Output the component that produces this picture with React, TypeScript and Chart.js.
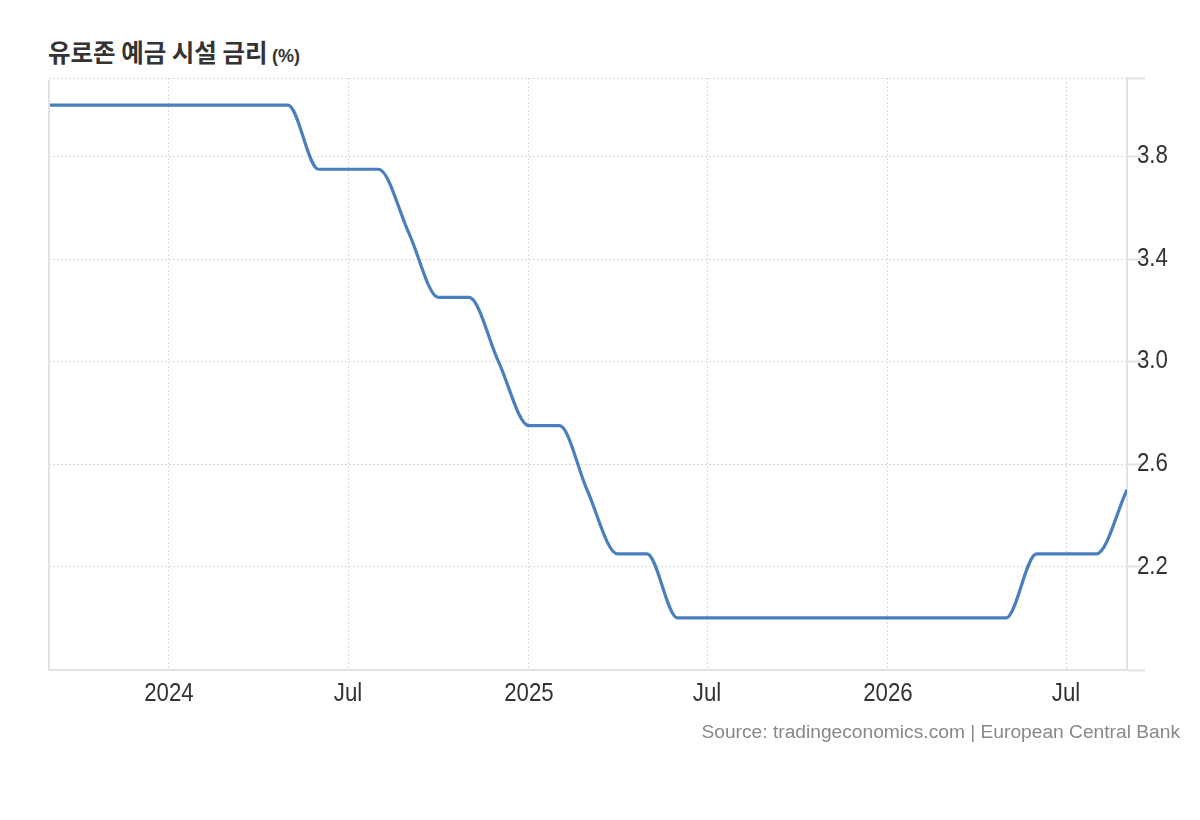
import React, { useEffect, useRef } from "react";
import { Chart, registerables } from "chart.js";

Chart.register(...registerables);

const TITLE = "유로존 예금 시설 금리";
const TITLE_UNIT = "(%)";
const SOURCE = "Source: tradingeconomics.com | European Central Bank";

const months = [
  "2023-09", "2023-10", "2023-11", "2023-12",
  "2024-01", "2024-02", "2024-03", "2024-04", "2024-05", "2024-06",
  "2024-07", "2024-08", "2024-09", "2024-10", "2024-11", "2024-12",
  "2025-01", "2025-02", "2025-03", "2025-04", "2025-05", "2025-06",
  "2025-07", "2025-08", "2025-09", "2025-10", "2025-11", "2025-12",
  "2026-01", "2026-02", "2026-03", "2026-04", "2026-05", "2026-06",
  "2026-07", "2026-08", "2026-09",
];

const rates = [
  4.0, 4.0, 4.0, 4.0,
  4.0, 4.0, 4.0, 4.0, 4.0, 3.75,
  3.75, 3.75, 3.5, 3.25, 3.25, 3.0,
  2.75, 2.75, 2.5, 2.25, 2.25, 2.0,
  2.0, 2.0, 2.0, 2.0, 2.0, 2.0,
  2.0, 2.0, 2.0, 2.0, 2.0, 2.25,
  2.25, 2.25, 2.5,
];

const xTickMonths = ["2024-01", "2024-07", "2025-01", "2025-07", "2026-01", "2026-07"];
const xTickLabels = ["2024", "Jul", "2025", "Jul", "2026", "Jul"];

const yMin = 1.797;
const yMax = 4.106;
const yTicks = [yMin, 2.2, 2.6, 3.0, 3.4, 3.8, yMax];
const yTickLabels = ["", "2.2", "2.6", "3.0", "3.4", "3.8", ""];

const xMinMonth = "2023-09";
const xMaxMonth = "2026-09";

function monthToDay(s: string): number {
  const [y, m] = s.split("-").map(Number);
  return Date.UTC(y, m - 1, 1) / 86400000;
}

const LABEL_FONT = "25px Arial, 'Liberation Sans', sans-serif";
const LABEL_SQUEEZE = 0.89;

const decorPlugin = {
  id: "decor",
  afterDraw(chart: any) {
    const { ctx, chartArea } = chart;
    const xs = chart.scales.x;
    const ys = chart.scales.y;
    ctx.save();
    ctx.strokeStyle = "#e3e3e3";
    ctx.lineWidth = 2;
    ctx.beginPath();
    ctx.moveTo(chartArea.left, chartArea.top + 2);
    ctx.lineTo(chartArea.left, chartArea.bottom);
    ctx.stroke();

    ctx.fillStyle = "#333";
    ctx.font = LABEL_FONT;
    ctx.textBaseline = "middle";
    xTickMonths.forEach((m, i) => {
      const px = xs.getPixelForValue(monthToDay(m));
      ctx.save();
      ctx.translate(px, chartArea.bottom + 24);
      ctx.scale(LABEL_SQUEEZE, 1);
      ctx.textAlign = "center";
      ctx.fillText(xTickLabels[i], 0, 0);
      ctx.restore();
    });
    yTicks.forEach((v, i) => {
      if (!yTickLabels[i]) return;
      const py = ys.getPixelForValue(v);
      ctx.save();
      ctx.translate(chartArea.right + 10, py);
      ctx.scale(LABEL_SQUEEZE, 1);
      ctx.textAlign = "left";
      ctx.fillText(yTickLabels[i], 0, 0);
      ctx.restore();
    });
    ctx.restore();
  },
};

export default function App() {
  const ref = useRef<HTMLCanvasElement | null>(null);

  useEffect(() => {
    if (!ref.current) return;
    const xTickValues = xTickMonths.map(monthToDay);
    const chart = new Chart(ref.current, {
      type: "line",
      data: {
        datasets: [
          {
            data: months.map((m, i) => ({ x: monthToDay(m), y: rates[i] })),
            borderColor: "#4a7fbf",
            borderWidth: 3.2,
            pointRadius: 0,
            pointHoverRadius: 0,
            cubicInterpolationMode: "monotone",
            fill: false,
          },
        ],
      },
      options: {
        animation: false,
        responsive: false,
        maintainAspectRatio: false,
        layout: { padding: { left: 41, top: 70, right: 0, bottom: 0 } },
        plugins: {
          legend: { display: false },
          tooltip: { enabled: false },
          title: { display: false },
        },
        scales: {
          x: {
            type: "linear",
            min: monthToDay(xMinMonth),
            max: monthToDay(xMaxMonth),
            afterBuildTicks: (scale: any) => {
              scale.ticks = xTickValues.map((v) => ({ value: v }));
            },
            afterFit: (scale: any) => {
              scale.height = 58;
            },
            ticks: { display: false, autoSkip: false, maxRotation: 0 },
            grid: {
              drawTicks: false,
              color: "#d9d9d9",
              lineWidth: 1,
            },
            border: { display: true, color: "#e3e3e3", width: 2, dash: [2, 2] },
          },
          y: {
            type: "linear",
            position: "right",
            min: yMin,
            max: yMax,
            afterBuildTicks: (scale: any) => {
              scale.ticks = yTicks.map((v) => ({ value: v }));
            },
            afterFit: (scale: any) => {
              scale.width = 65;
            },
            ticks: { display: false },
            grid: {
              drawTicks: true,
              tickLength: 18,
              color: (c: any) => (c.index === 0 ? "rgba(0,0,0,0)" : "#d9d9d9"),
              lineWidth: 1,
              tickColor: "#e3e3e3",
              tickWidth: 2,
              tickBorderDash: [],
            } as any,
            border: { display: true, color: "#e3e3e3", width: 2, dash: [2, 2] },
          },
        },
      } as any,
      plugins: [decorPlugin],
    });
    return () => chart.destroy();
  }, []);

  return (
    <div style={{ position: "relative", width: 1184, height: 750 }}>
      <div
        style={{
          position: "absolute",
          left: 40,
          top: 29,
          lineHeight: "30px",
          fontFamily: "Arial, 'Liberation Sans', 'Noto Sans CJK KR', sans-serif",
          fontWeight: "bold",
          color: "#333",
          whiteSpace: "nowrap",
        }}
      >
        <span style={{ fontSize: 24.5, fontFamily: "'Noto Sans CJK KR', sans-serif" }}>{TITLE}</span>{" "}
        <span style={{ fontSize: 18 }}>{TITLE_UNIT}</span>
      </div>
      <canvas
        ref={ref}
        width={1184}
        height={720}
        style={{ position: "absolute", left: 0, top: 0, width: 1184, height: 720 }}
      />
      <div
        style={{
          position: "absolute",
          right: 12,
          top: 712,
          lineHeight: "24px",
          fontSize: 19.2,
          fontFamily: "Arial, 'Liberation Sans', sans-serif",
          color: "#888",
          whiteSpace: "nowrap",
        }}
      >
        {SOURCE}
      </div>
    </div>
  );
}
